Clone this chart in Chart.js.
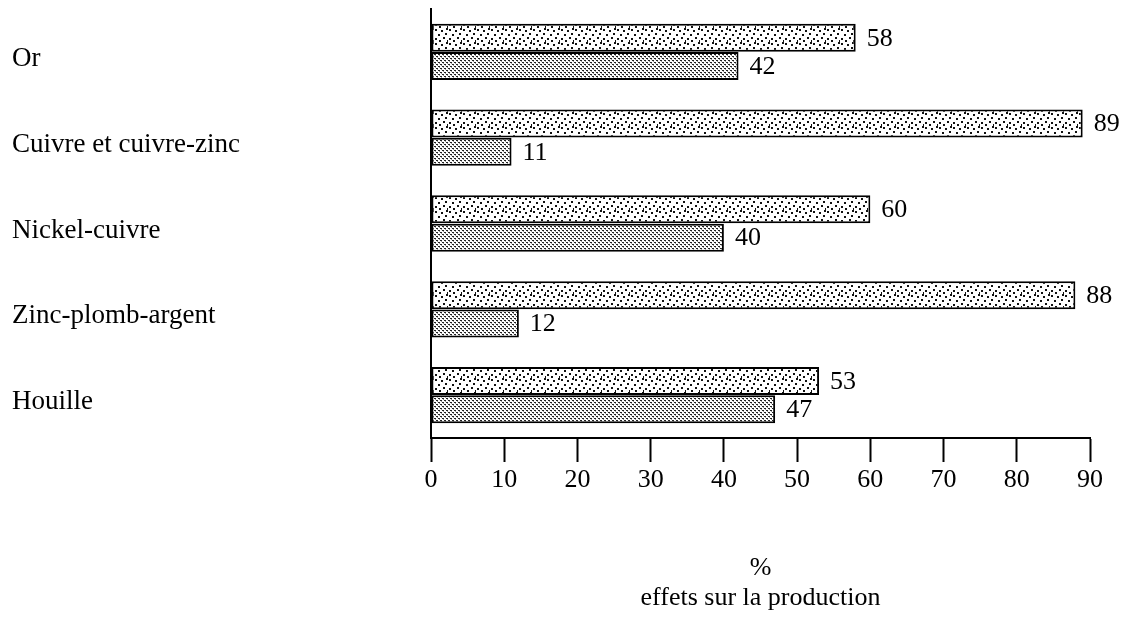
<!DOCTYPE html>
<html>
<head>
<meta charset="utf-8">
<script src="https://cdn.jsdelivr.net/npm/chart.js@4.4.0/dist/chart.umd.min.js"></script>
<style>
  html, body { margin: 0; padding: 0; background: #fff; }
  #wrap { width: 1128px; height: 620px; position: relative; }
</style>
</head>
<body>
<div id="wrap"><canvas id="c"></canvas></div>
<script>
const categories = ['Or', 'Cuivre et cuivre-zinc', 'Nickel-cuivre', 'Zinc-plomb-argent', 'Houille'];
const seriesA = [58, 89, 60, 88, 53];
const seriesB = [42, 11, 40, 12, 47];
const xTicksMax = 90;
const xStep = 10;
const axisTitle = ['%', 'effets sur la production'];

const SERIF = '"Liberation Serif", "Times New Roman", serif';

function sparsePattern() {
  const c = document.createElement('canvas');
  c.width = 14; c.height = 14;
  const g = c.getContext('2d');
  g.fillStyle = '#fff'; g.fillRect(0, 0, 14, 14);
  g.fillStyle = '#111';
  const dots = [[1,1],[7,2],[11,5],[4,6],[9,9],[1,10],[13,12],[5,12],[12,0]];
  dots.forEach(([x, y]) => g.fillRect(x, y, 2, 2));
  return g.createPattern(c, 'repeat');
}
function densePattern() {
  const c = document.createElement('canvas');
  c.width = 4; c.height = 4;
  const g = c.getContext('2d');
  g.fillStyle = '#fff'; g.fillRect(0, 0, 4, 4);
  g.fillStyle = '#222';
  g.fillRect(0, 0, 2, 1);
  g.fillRect(2, 2, 2, 1);
  g.fillStyle = '#999';
  g.fillRect(1, 1, 1, 1);
  g.fillRect(3, 3, 1, 1);
  return g.createPattern(c, 'repeat');
}

const valueLabels = {
  id: 'valueLabels',
  afterDatasetsDraw(chart) {
    const ctx = chart.ctx;
    ctx.save();
    ctx.font = '26px ' + SERIF;
    ctx.fillStyle = '#000';
    ctx.textAlign = 'left';
    ctx.textBaseline = 'middle';
    chart.data.datasets.forEach((ds, di) => {
      const meta = chart.getDatasetMeta(di);
      meta.data.forEach((el, i) => {
        ctx.fillText(String(ds.data[i]), el.x + 11, el.y + 1);
      });
    });
    ctx.restore();
  }
};

new Chart(document.getElementById('c'), {
  type: 'bar',
  data: {
    labels: categories,
    datasets: [
      { label: 'A', data: seriesA, backgroundColor: sparsePattern(), borderColor: '#000', borderWidth: 2, borderSkipped: false, barPercentage: 0.99, categoryPercentage: 0.66 },
      { label: 'B', data: seriesB, backgroundColor: densePattern(), borderColor: '#000', borderWidth: 2, borderSkipped: false, barPercentage: 0.99, categoryPercentage: 0.66 }
    ]
  },
  options: {
    indexAxis: 'y',
    responsive: true,
    maintainAspectRatio: false,
    animation: false,
    layout: { padding: { left: 12, top: 9, right: 38, bottom: 0 } },
    plugins: { legend: { display: false }, tooltip: { enabled: false } },
    scales: {
      y: {
        type: 'category',
        afterFit(scale) { scale.width = 419; },
        ticks: { crossAlign: 'far', padding: 0, labelOffset: 7, color: '#000', font: { family: SERIF, size: 27, lineHeight: 0.5 } },
        grid: { drawOnChartArea: false, drawTicks: false },
        border: { display: true, color: '#000', width: 2 }
      },
      x: {
        min: 0,
        max: xTicksMax,
        afterFit(scale) { scale.height = 182; },
        ticks: { stepSize: xStep, padding: 3, color: '#000', font: { family: SERIF, size: 26 }, maxRotation: 0 },
        grid: { drawOnChartArea: false, drawTicks: true, tickLength: 24, tickWidth: 2, tickColor: '#000' },
        border: { display: true, color: '#000', width: 2 },
        title: { display: true, text: axisTitle, color: '#000', font: { family: SERIF, size: 26, lineHeight: 1.15 }, padding: { top: 0, bottom: 7 } }
      }
    }
  },
  plugins: [valueLabels]
});
</script>
</body>
</html>
